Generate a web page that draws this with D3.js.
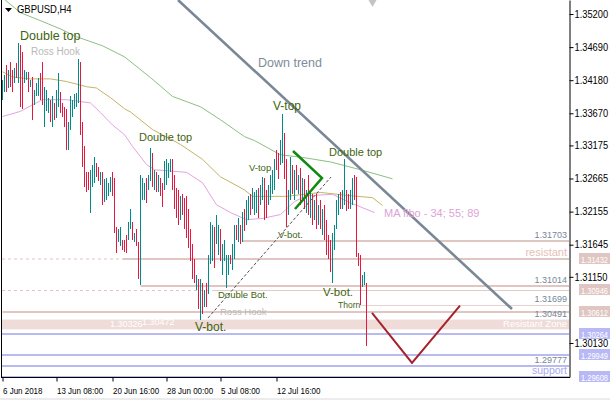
<!DOCTYPE html>
<html><head><meta charset="utf-8">
<script src="https://cdn.jsdelivr.net/npm/d3@7"></script>
<style>
html,body{margin:0;padding:0;background:#fff;}
svg{display:block;font-family:"Liberation Sans",Arial,sans-serif;}
</style></head><body>
<svg id="c" width="610" height="400"></svg>
<script>
// ---------- DATA ----------
const symbolTitle = "GBPUSD,H4";
const highs = [1.3419,1.3426,1.3442,1.3434,1.3446,1.3434,1.3437,1.3445,1.3476,1.3473,
1.3462,1.3434,1.3431,1.3431,1.3419,1.3423,1.3403,1.3414,1.3422,1.3429,
1.3446,1.3408,1.3403,1.3391,1.3388,1.3393,1.3383,1.3403,1.3429,1.3400,
1.3383,1.3376,1.3373,1.3354,1.3393,1.3388,1.3396,1.3399,1.3450,1.3446,
1.3353,1.3316,1.3276,1.3277,1.3280,1.3288,1.3300,1.3291,1.3285,1.3276,
1.3277,1.3265,1.3268,1.3260,1.3269,1.3276,1.3268,1.3192,1.3188,1.3191,
1.3172,1.3172,1.3180,1.3199,1.3220,1.3199,1.3183,1.3188,1.3168,1.3272,
1.3268,1.3260,1.3268,1.3272,1.3314,1.3306,1.3280,1.3277,1.3272,1.3268,
1.3260,1.3293,1.3296,1.3291,1.3296,1.3296,1.3272,1.3252,1.3249,1.3240,
1.3242,1.3237,1.3239,1.3219,1.3188,1.3165,1.3142,1.3118,1.3111,1.3111,
1.3106,1.3095,1.3106,1.3149,1.3200,1.3195,1.3191,1.3211,1.3195,1.3188,
1.3165,1.3172,1.3149,1.3149,1.3149,1.3165,1.3195,1.3195,1.3206,1.3195,
1.3215,1.3219,1.3234,1.3239,1.3242,1.3252,1.3246,1.3249,1.3252,1.3257,
1.3269,1.3268,1.3249,1.3257,1.3272,1.3280,1.3296,1.3311,1.3306,1.3326,
1.3366,1.3337,1.3296,1.3249,1.3299,1.3288,1.3280,1.3288,1.3272,1.3283,
1.3268,1.3265,1.3249,1.3272,1.3249,1.3242,1.3234,1.3242,1.3226,1.3234,
1.3219,1.3226,1.3203,1.3180,1.3172,1.3183,1.3195,1.3234,1.3242,1.3245,
1.3249,1.3296,1.3249,1.3242,1.3249,1.3268,1.3272,1.3269,1.3152,1.3149,
1.3118,1.3122,1.3106];
const lows = [1.3388,1.3400,1.3400,1.3406,1.3408,1.3400,1.3414,1.3422,1.3414,1.3376,
1.3373,1.3414,1.3419,1.3400,1.3408,1.3357,1.3380,1.3393,1.3393,1.3388,
1.3380,1.3346,1.3370,1.3368,1.3353,1.3346,1.3357,1.3360,1.3376,1.3368,
1.3362,1.3346,1.3311,1.3311,1.3342,1.3362,1.3373,1.3376,1.3383,1.3334,
1.3285,1.3254,1.3245,1.3249,1.3214,1.3254,1.3260,1.3269,1.3262,1.3257,
1.3226,1.3231,1.3234,1.3239,1.3245,1.3239,1.3183,1.3152,1.3168,1.3162,
1.3157,1.3154,1.3152,1.3172,1.3188,1.3172,1.3168,1.3162,1.3111,1.3103,
1.3234,1.3234,1.3229,1.3249,1.3262,1.3254,1.3249,1.3245,1.3246,1.3239,
1.3223,1.3249,1.3257,1.3268,1.3277,1.3249,1.3219,1.3206,1.3195,1.3203,
1.3211,1.3188,1.3175,1.3160,1.3139,1.3111,1.3106,1.3095,1.3065,1.3049,
1.3057,1.3068,1.3069,1.3088,1.3134,1.3139,1.3129,1.3165,1.3149,1.3139,
1.3118,1.3139,1.3098,1.3118,1.3134,1.3126,1.3142,1.3172,1.3169,1.3165,
1.3168,1.3185,1.3195,1.3203,1.3211,1.3219,1.3211,1.3214,1.3206,1.3226,
1.3234,1.3203,1.3206,1.3226,1.3234,1.3242,1.3249,1.3280,1.3265,1.3288,
1.3291,1.3265,1.3192,1.3211,1.3234,1.3242,1.3234,1.3249,1.3242,1.3226,
1.3234,1.3219,1.3214,1.3211,1.3206,1.3195,1.3203,1.3188,1.3195,1.3188,
1.3180,1.3172,1.3149,1.3142,1.3122,1.3106,1.3157,1.3188,1.3211,1.3219,
1.3219,1.3226,1.3216,1.3219,1.3219,1.3226,1.3234,1.3146,1.3131,1.3072,
1.3100,1.3103,1.3008];
const directions = ("uududdudud"+"duududuuud"+"duuududuud"+"ddduuuuuud"+"dddduuuddu"+
"duuuuddduu"+"ddduududdu"+"uuduududud"+"duuuuddddu"+"dddddddudu"+
"duduuuduud"+"uuuuduudud"+"uduuduuudu"+"udduuuuddu"+"udduududud"+
"ududududud"+"udddduuuud"+"uudduudddd"+"uud").split("");

// moving averages, bar index + value
const ma89Bars = [0,9,18,29,37,50,61,74,85,99,109,121,126,139,150,164,179,195];
const ma89Vals = [1.3545,1.3522,1.3511,1.3497,1.3485,1.3471,1.3454,1.3422,1.3393,1.3377,1.3357,1.3331,1.3325,1.3303,1.3299,1.3292,1.3280,1.3266];
const ma55Bars = [0,5,14,24,32,42,47,54,61,64,75,89,100,109,121,125,142,159,174,185,190];
const ma55Vals = [1.3431,1.3423,1.3420,1.3420,1.3416,1.3408,1.3406,1.3391,1.3374,1.3369,1.3342,1.3319,1.3296,1.3269,1.3249,1.3239,1.3239,1.3245,1.3240,1.3237,1.3225];
const ma34Bars = [0,9,15,20,32,44,49,55,61,65,72,76,92,100,107,114,122,130,139,146,152,165,174,186];
const ma34Vals = [1.3362,1.3370,1.3380,1.3388,1.3388,1.3383,1.3368,1.3349,1.3334,1.3316,1.3288,1.3280,1.3276,1.3260,1.3226,1.3214,1.3203,1.3205,1.3211,1.3231,1.3240,1.3242,1.3229,1.3214];

// visible price-axis ticks (1.30640 sits hidden under a price tag in the reference)
const priceTicks = [1.35200,1.34690,1.34180,1.33670,1.33175,1.32665,1.32155,1.31645,1.31150,1.30130];
const dateTickBars = [0,27,55,82,109,137];
const dateTickLabels = ["6 Jun 2018","13 Jun 08:00","20 Jun 16:00","28 Jun 00:00","5 Jul 08:00","12 Jul 16:00"];

// horizontal levels
const resistLevels = [1.31703,1.31432,1.31014,1.30946,1.30716,1.30612];
const resistStartBars = [120,0,69,0,179,0];
const resistLabels = ["1.31703","resistant","1.31014","","1.31699",""];
const supportLevels = [1.30264,1.29949,1.29777,1.29608];
const supportLabels = ["","","1.29777","support"];
const zoneTop = 1.30491, zoneBottom = 1.30340;
const zoneLabels = ["1.30491","Resistant Zone"];
const pinkTags = [1.31432,1.30946,1.30612];
const blueTags = [1.30264,1.29949,1.29608];

// drawn objects (bar index, price)
const downTrendBars = [87.75,254.75], downTrendPrices = [1.35416,1.30654];
const dashTrendBars = [102.75,164.25], dashTrendPrices = [1.30516,1.32688];
const wedgeBars = [145.25,159.75,146.25], wedgePrices = [1.33089,1.32673,1.32195];
const vShapeBars = [184.75,204.75,228.75], vShapePrices = [1.30593,1.29822,1.30705];

const noteTexts = ["Double top","Ross Hook","Down trend","V-top","Double top","V-top","Double top","V-bot.","MA fibo - 34; 55; 89","Double Bot.","Ross Hook","V-bot.","V-bot.","Thorn","1.30326","1.30472"];
const noteBars = [8.75,14.25,127.75,135.25,68.25,123.25,163.25,137.75,190.75,107.75,108.75,96.25,160.25,167.75,53.75,69.75];
const notePrices = [1.34800,1.34568,1.34383,1.33721,1.33243,1.32781,1.33012,1.31748,1.32072,1.30824,1.30562,1.30315,1.30855,1.30670,1.30377,1.30408];

// ---------- DRAW ----------
const svg = d3.select("#c");
const x = d3.scaleLinear().domain([0,283]).range([2.5,568.5]);
const y = d3.scaleLinear().domain([1.29606,1.35416]).range([377,0]);
const plotR = 569, plotB = 377;
const squeeze = (sel, f) => sel.each(function(){
  const w = this.getComputedTextLength();
  d3.select(this).attr("textLength", w*f).attr("lengthAdjust","spacingAndGlyphs");
});

svg.append("rect").attr("width",610).attr("height",400).attr("fill","#fff");
svg.append("rect").attr("x",0).attr("y",398).attr("width",610).attr("height",2).attr("fill","#ececec");

svg.append("defs").append("clipPath").attr("id","clip")
  .append("rect").attr("x",2).attr("y",0).attr("width",plotR-2).attr("height",plotB);
const g = svg.append("g").attr("clip-path","url(#clip)");

// zone
g.append("rect").attr("x",2).attr("width",plotR-2)
  .attr("y",y(zoneTop)).attr("height",y(zoneBottom)-y(zoneTop)).attr("fill","#efdcd8");

// resist levels
const pinkStyle = [{w:2,c:"#dfc6c1"},{w:2,c:"#dfc6c1"},{w:2,c:"#dfc6c1"},{w:1,c:"#e2cbc6"},{w:1,c:"#e6d2ce"},{w:2,c:"#dfc6c1"}];
resistLevels.forEach((p,k)=>{
  const yy = Math.round(y(p));
  const st = pinkStyle[k];
  if(k===1){
    g.append("line").attr("x1",2).attr("x2",x(60)).attr("y1",yy).attr("y2",yy)
      .attr("stroke","#e0c4c0").attr("stroke-width",1).attr("stroke-dasharray","3,3");
    g.append("line").attr("x1",x(60)).attr("x2",plotR).attr("y1",yy).attr("y2",yy)
      .attr("stroke",st.c).attr("stroke-width",st.w);
  } else if(k===3){
    g.append("line").attr("x1",2).attr("x2",x(105)).attr("y1",yy+0.5).attr("y2",yy+0.5)
      .attr("stroke","#e0c4c0").attr("stroke-width",1).attr("stroke-dasharray","3,3");
    g.append("line").attr("x1",x(105)).attr("x2",plotR).attr("y1",yy+0.5).attr("y2",yy+0.5)
      .attr("stroke",st.c).attr("stroke-width",st.w);
  } else {
    g.append("line").attr("x1",x(resistStartBars[k])).attr("x2",plotR)
      .attr("y1",st.w===1?yy+0.5:yy).attr("y2",st.w===1?yy+0.5:yy)
      .attr("stroke",st.c).attr("stroke-width",st.w);
  }
});
supportLevels.forEach(p=>{
  const yy = Math.round(y(p));
  g.append("line").attr("x1",2).attr("x2",plotR).attr("y1",yy).attr("y2",yy)
    .attr("stroke","#babaf2").attr("stroke-width",2);
});

// moving averages
const maLine = d3.line().x(d=>x(d[0])).y(d=>y(d[1]));
[[ma89Bars,ma89Vals,"#8dbf83"],[ma55Bars,ma55Vals,"#c4b466"],[ma34Bars,ma34Vals,"#e3a3df"]].forEach(([b,v,c])=>{
  g.append("path").attr("d",maLine(b.map((bi,k)=>[bi,v[k]])))
    .attr("fill","none").attr("stroke",c).attr("stroke-width",1);
});

// candles
g.append("g").attr("shape-rendering","crispEdges").selectAll("rect")
  .data(highs.map((h,i)=>({i,h,l:lows[i],d:directions[i]})))
  .join("rect")
  .attr("x",d=>Math.floor(x(d.i)))
  .attr("width",1)
  .attr("y",d=>Math.round(y(d.h)))
  .attr("height",d=>Math.max(1,Math.round(y(d.l))-Math.round(y(d.h))))
  .attr("fill",d=>d.d==="u"?"#008b8b":"#e8173f");

// trend objects
const pLine = d3.line().x(d=>x(d[0])).y(d=>y(d[1]));
g.append("path").attr("d",pLine(dashTrendBars.map((b,k)=>[b,dashTrendPrices[k]])))
  .attr("stroke","#505050").attr("stroke-width",1)
  .attr("stroke-dasharray","3,2").attr("fill","none");
g.append("path").attr("d",pLine(downTrendBars.map((b,k)=>[b,downTrendPrices[k]])))
  .attr("stroke","#7a8796").attr("stroke-width",2.6).attr("fill","none");
g.append("path").attr("d",pLine(wedgeBars.map((b,k)=>[b,wedgePrices[k]])))
  .attr("stroke","#0f8a0f").attr("stroke-width",2.5).attr("fill","none");
g.append("path").attr("d",pLine(vShapeBars.map((b,k)=>[b,vShapePrices[k]])))
  .attr("stroke","#a5222a").attr("stroke-width",2).attr("fill","none");

// notes
const noteStyle = [
 {s:12.5,c:"#3f6410"},{s:10,c:"#b9b9b9"},{s:12.5,c:"#7e8c9a"},{s:12,c:"#3f6410"},
 {s:11,c:"#3f6410"},{s:9.5,c:"#3f6410"},{s:11,c:"#3f6410"},{s:9.5,c:"#3f6410"},
 {s:11,c:"#dca3d8"},{s:9.5,c:"#3f6410"},{s:9.5,c:"#b9b9b9"},{s:12,c:"#3f6410"},
 {s:11.5,c:"#3f6410"},{s:8.5,c:"#3f6410"},{s:9,c:"#ffffff"},{s:9,c:"#ffffff"}];
noteTexts.forEach((t,k)=>{
  g.append("text").attr("x",x(noteBars[k])).attr("y",y(notePrices[k]))
    .attr("font-size",noteStyle[k].s).attr("fill",noteStyle[k].c).text(t);
});

// level labels (right aligned)
const lab = (txt,p,col,size)=>g.append("text").attr("x",567).attr("y",y(p)-3)
  .attr("text-anchor","end").attr("font-size",size).attr("fill",col).text(txt);
resistLabels.forEach((t,k)=>{ if(t) lab(t,resistLevels[k], t==="resistant"?"#e5bfba":"#75869a", t==="resistant"?11:9); });
supportLabels.forEach((t,k)=>{ if(t) lab(t,supportLevels[k], t==="support"?"#a9a9ee":"#75869a", t==="support"?10.5:9); });
lab(zoneLabels[0],zoneTop,"#75869a",9);
g.append("text").attr("x",567).attr("y",y(zoneBottom)-2).attr("text-anchor","end")
  .attr("font-size",9.5).attr("fill","#ffffff").text(zoneLabels[1]);

// shift marker
svg.append("path").attr("d",`M${x(183)},0 L${x(187)},0 L${x(185)},7 Z`).attr("fill","#c4c4c4");

// left border
svg.append("line").attr("x1",1.5).attr("x2",1.5).attr("y1",0).attr("y2",plotB+0.5).attr("stroke","#000");

// price axis
const ya = svg.append("g").attr("transform",`translate(${plotR+0.5},0)`)
  .call(d3.axisRight(y).tickValues(priceTicks).tickFormat(d3.format(".5f")).tickSize(4).tickSizeOuter(0));
ya.select(".domain").attr("stroke","#000");
ya.selectAll("text").attr("font-size",10).attr("fill","#000").attr("x",5)
  .attr("font-family","Liberation Sans, Arial, sans-serif");
squeeze(ya.selectAll("text"), 0.93);

// price tags (text condensed horizontally with a transform so it stays inside the box)
const tag = (p,bg)=>{
  const yy = Math.round(y(p));
  svg.append("rect").attr("x",579).attr("y",yy-6).attr("width",31).attr("height",11).attr("fill",bg);
  svg.append("text").attr("transform",`translate(581,${yy+3.5}) scale(0.78,1)`)
    .attr("font-size",9.6).attr("fill","#fff").text(d3.format(".5f")(p));
};
pinkTags.forEach(p=>tag(p,"#e0c6c2"));
blueTags.forEach(p=>tag(p,"#b8b8f6"));

// time axis
const xa = svg.append("g").attr("transform",`translate(0,${plotB+0.5})`)
  .call(d3.axisBottom(x).tickValues(dateTickBars).tickFormat((d,k)=>dateTickLabels[k]).tickSize(4).tickSizeOuter(0));
xa.select(".domain").attr("d",`M1,0H${plotR+1}`).attr("stroke","#000");
xa.selectAll("text").attr("text-anchor","start").attr("x",0).attr("dy","0.95em")
  .attr("font-size",9.5).attr("fill","#000").attr("font-family","Liberation Sans, Arial, sans-serif");
squeeze(xa.selectAll("text"), 0.84);

// title
svg.append("path").attr("d","M5,8 L12,8 L8.5,12 Z").attr("fill","#000");
const title = svg.append("text").attr("x",17).attr("y",13).attr("font-size",10.5).attr("fill","#000").text(symbolTitle);
squeeze(title, 0.9);
</script>
</body></html>
